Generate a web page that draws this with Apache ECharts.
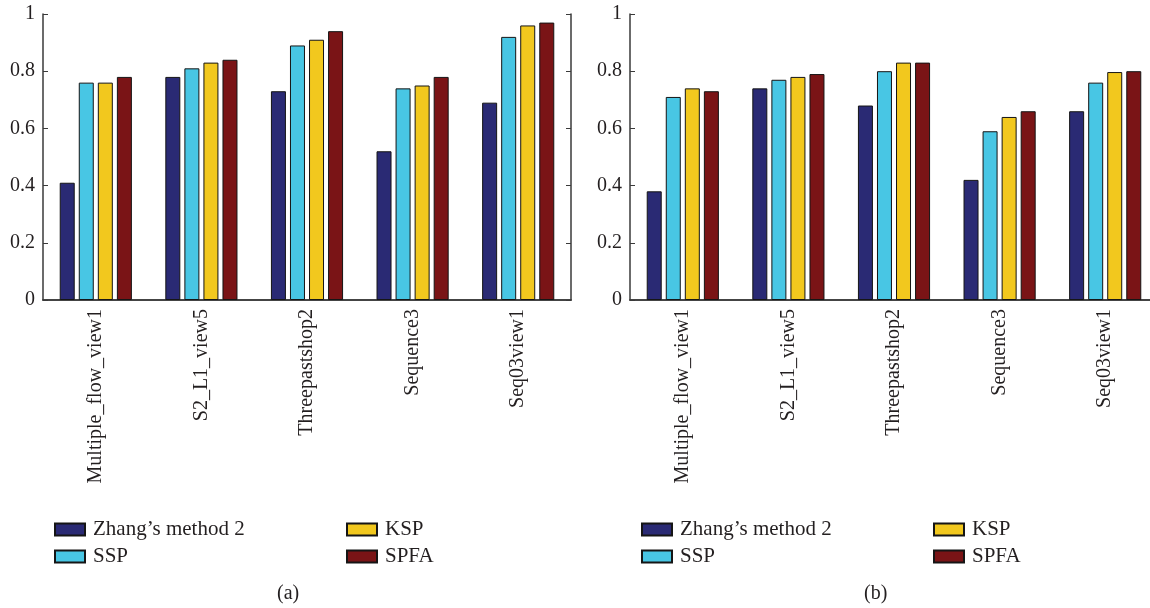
<!DOCTYPE html>
<html>
<head>
<meta charset="utf-8">
<script src="https://cdn.jsdelivr.net/npm/echarts@6/dist/echarts.min.js"></script>
<style>
html,body{margin:0;padding:0;background:#fff;overflow:hidden;width:1150px;height:608px;}
#c{width:1158px;height:608px;}
</style>
</head>
<body>
<div id="c"></div>
<script>
var categories = ['Multiple_flow_view1', 'S2_L1_view5', 'Threepastshop2', 'Sequence3', 'Seq03view1'];
var seriesNames = ["Zhang\u2019s method 2", 'SSP', 'KSP', 'SPFA'];
var zhangA = [0.41, 0.78, 0.73, 0.52, 0.69];
var sspA   = [0.76, 0.81, 0.89, 0.74, 0.92];
var kspA   = [0.76, 0.83, 0.91, 0.75, 0.96];
var spfaA  = [0.78, 0.84, 0.94, 0.78, 0.97];
var zhangB = [0.38, 0.74, 0.68, 0.42, 0.66];
var sspB   = [0.71, 0.77, 0.80, 0.59, 0.76];
var kspB   = [0.74, 0.78, 0.83, 0.64, 0.797];
var spfaB  = [0.73, 0.79, 0.83, 0.66, 0.80];
var panelLabels = ['(a)', '(b)'];

var colors = ['#2a2a74', '#48c6e4', '#f2c81e', '#7a1416'];
var FONT = 'Liberation Serif';
var TXT = '#231f20';
var AX = '#3a3a3a';

var chart = echarts.init(document.getElementById('c'));

function bottomX(gi) {
  return {
    type: 'category', gridIndex: gi, data: categories, position: 'bottom',
    axisLine: {lineStyle: {color: AX, width: 1.5}},
    axisTick: {inside: true, alignWithLabel: true, length: 4, lineStyle: {color: AX}},
    axisLabel: {rotate: 90, margin: 9, fontFamily: FONT, fontSize: 20, color: TXT},
    splitLine: {show: false}
  };
}
function topX(gi) {
  return {
    type: 'category', gridIndex: gi, data: categories, position: 'top',
    axisLine: {lineStyle: {color: AX, width: 1.5}},
    axisTick: {inside: true, alignWithLabel: true, length: 4, lineStyle: {color: AX}},
    axisLabel: {show: false},
    splitLine: {show: false}
  };
}
function leftY(gi) {
  return {
    type: 'value', gridIndex: gi, min: 0, max: 1, interval: 0.2, position: 'left',
    axisLine: {show: true, lineStyle: {color: AX, width: 1.5}},
    axisTick: {show: true, inside: true, length: 5, lineStyle: {color: AX}},
    axisLabel: {margin: 8, fontFamily: FONT, fontSize: 20, color: TXT,
      formatter: function (v) { return String(+v.toFixed(1)); }},
    splitLine: {show: false}
  };
}
function rightY(gi) {
  return {
    type: 'value', gridIndex: gi, min: 0, max: 1, interval: 0.2, position: 'right',
    axisLine: {show: true, lineStyle: {color: AX, width: 1.5}},
    axisTick: {show: true, inside: true, length: 5, lineStyle: {color: AX}},
    axisLabel: {show: false},
    splitLine: {show: false}
  };
}

var dataA = [zhangA, sspA, kspA, spfaA];
var dataB = [zhangB, sspB, kspB, spfaB];
var series = [];
[dataA, dataB].forEach(function (ds, gi) {
  ds.forEach(function (vals, si) {
    series.push({
      name: seriesNames[si], type: 'bar',
      xAxisIndex: gi * 2, yAxisIndex: gi * 2,
      data: vals, barWidth: 15, barGap: '27%',
      itemStyle: {color: colors[si], borderColor: '#151515', borderWidth: 1},
      emphasis: {disabled: true},
      animation: false
    });
  });
});

function legendBlock(left, names) {
  return {
    left: left, top: 514, orient: 'vertical',
    data: names, itemWidth: 30, itemHeight: 12, itemGap: 6,
    icon: 'rect', selectedMode: false,
    textStyle: {fontFamily: FONT, fontSize: 21, color: TXT, lineHeight: 21, padding: [0, 0, 0, 3]}
  };
}

chart.setOption({
  animation: false,
  grid: [
    {left: 43, top: 14, width: 528, height: 286},
    {left: 630, top: 14, width: 528, height: 286}
  ],
  xAxis: [bottomX(0), topX(0), bottomX(1), topX(1)],
  yAxis: [leftY(0), rightY(0), leftY(1), rightY(1)],
  legend: [
    legendBlock(49, [seriesNames[0], seriesNames[1]]),
    legendBlock(341, [seriesNames[2], seriesNames[3]]),
    legendBlock(636, [seriesNames[0], seriesNames[1]]),
    legendBlock(928, [seriesNames[2], seriesNames[3]])
  ],
  graphic: [
    {type: 'text', left: 277, top: 584, style: {text: panelLabels[0], font: '20px "Liberation Serif"', fill: TXT}},
    {type: 'text', left: 864, top: 584, style: {text: panelLabels[1], font: '20px "Liberation Serif"', fill: TXT}}
  ],
  series: series
});
</script>
</body>
</html>
